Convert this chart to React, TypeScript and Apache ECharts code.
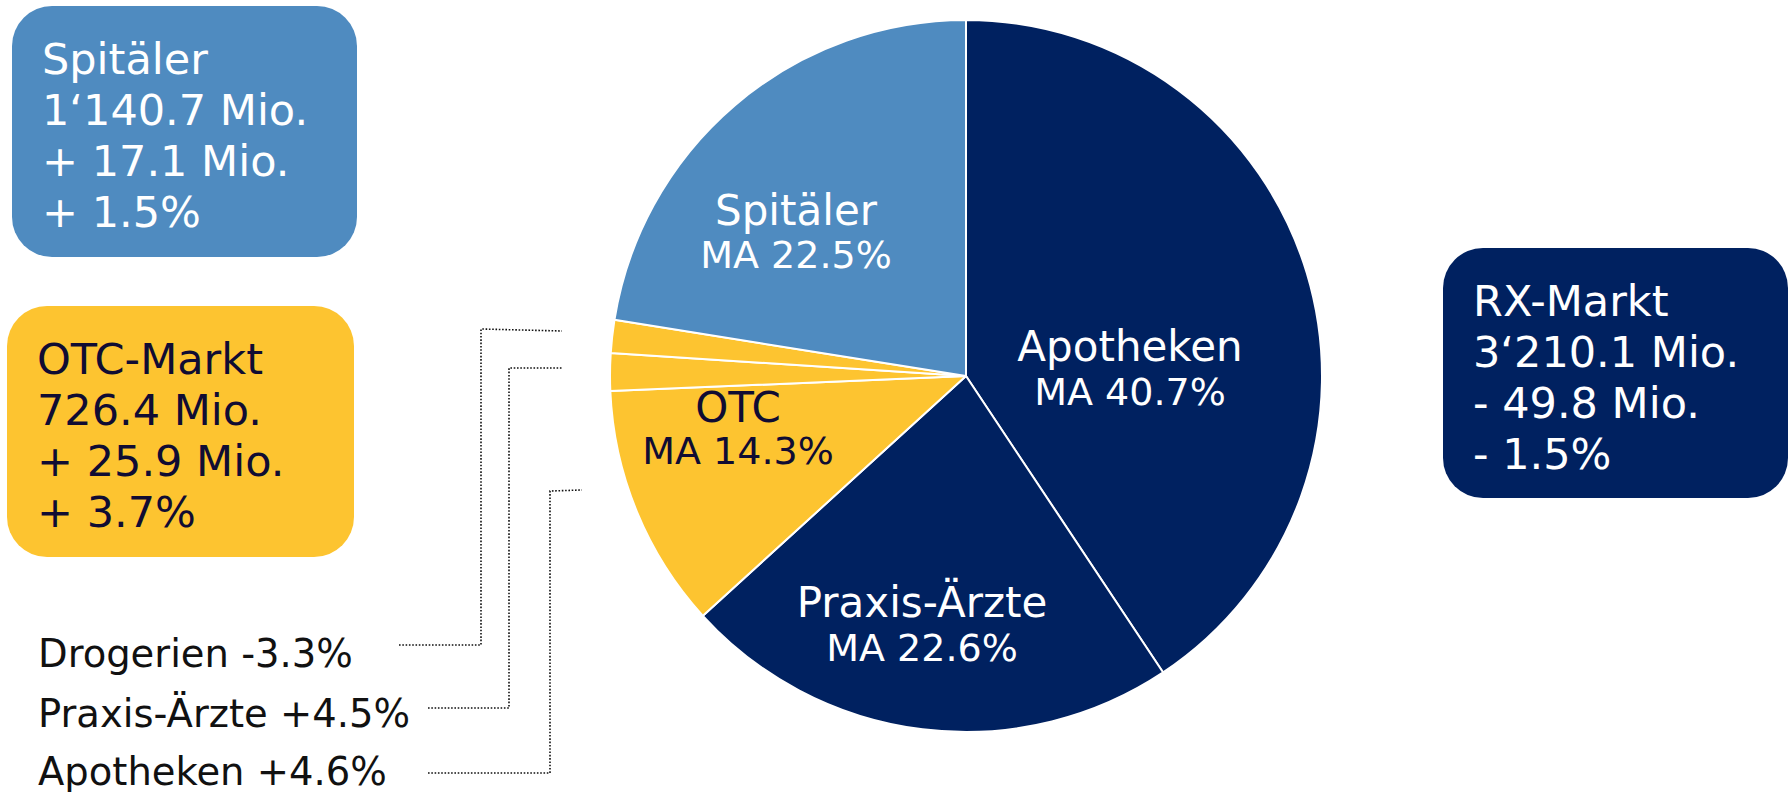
import React, { useEffect, useRef } from 'react';
import * as echarts from 'echarts';

// ---- data ----
const sliceNames = ['Apotheken', 'Praxis-Ärzte', 'OTC Apotheken', 'OTC Praxis-Ärzte', 'OTC Drogerien', 'Spitäler'];
const sliceShares = [40.7, 22.6, 11.1, 1.7, 1.5, 22.5];

const innerTitles = ['Apotheken', 'Praxis-Ärzte', 'OTC', 'Spitäler'];
const innerShares = ['MA 40.7%', 'MA 22.6%', 'MA 14.3%', 'MA 22.5%'];

const marketNames = ['Spitäler', 'OTC-Markt', 'RX-Markt'];
const marketVolumes = ['1‘140.7 Mio.', '726.4 Mio.', '3‘210.1 Mio.'];
const marketChangesAbs = ['+ 17.1 Mio.', '+ 25.9 Mio.', '- 49.8 Mio.'];
const marketChangesPct = ['+ 1.5%', '+ 3.7%', '- 1.5%'];

const otcChannels = ['Drogerien', 'Praxis-Ärzte', 'Apotheken'];
const otcGrowth = ['-3.3%', '+4.5%', '+4.6%'];

// ---- styles ----
const NAVY = '#002160';
const BLUE = '#4F8BC0';
const YELLOW = '#FDC430';
const DARK = '#100C33';
const FONT = '"DejaVu Sans", Verdana, sans-serif';
const sliceColors = [NAVY, NAVY, YELLOW, YELLOW, YELLOW, BLUE];

const boxes = [
  { x: 12, y: 6, w: 345, h: 251, fill: BLUE, text: '#ffffff' },
  { x: 7, y: 306, w: 347, h: 251, fill: YELLOW, text: DARK },
  { x: 1443, y: 248, w: 345, h: 250, fill: NAVY, text: '#ffffff' },
];

const innerPos = [
  { x: 1130, y1: 346, y2: 392, color: '#ffffff' },
  { x: 922, y1: 602, y2: 648, color: '#ffffff' },
  { x: 738, y1: 407, y2: 451, color: DARK },
  { x: 796, y1: 210, y2: 255, color: '#ffffff' },
];

const leaderPos = [
  { ty: 653, points: [[399, 645], [481, 645], [481, 329], [562, 331]] },
  { ty: 713, points: [[428, 708], [509, 708], [509, 368], [562, 368]] },
  { ty: 771, points: [[428, 773], [550, 773], [550, 491], [582, 490]] },
];

export default function App() {
  const ref = useRef<HTMLDivElement>(null);

  useEffect(() => {
    if (!ref.current) return;
    const chart = echarts.init(ref.current, null, { renderer: 'svg' });

    const graphics: any[] = [];

    // market boxes
    boxes.forEach((b, i) => {
      graphics.push({
        type: 'rect',
        z: 10,
        shape: { x: b.x, y: b.y, width: b.w, height: b.h, r: 40 },
        style: { fill: b.fill },
      });
      const lines = [marketNames[i], marketVolumes[i], marketChangesAbs[i], marketChangesPct[i]];
      lines.forEach((t, j) => {
        graphics.push({
          type: 'text',
          z: 11,
          x: b.x + 30,
          y: b.y + 53 + j * 51,
          style: {
            text: t,
            fill: b.text,
            fontSize: 43,
            fontFamily: FONT,
            align: 'left',
            verticalAlign: 'middle',
          },
        });
      });
    });

    // inner labels
    innerPos.forEach((p, i) => {
      graphics.push({
        type: 'text',
        z: 20,
        x: p.x,
        y: p.y1,
        style: { text: innerTitles[i], fill: p.color, fontSize: 42, fontFamily: FONT, align: 'center', verticalAlign: 'middle' },
      });
      graphics.push({
        type: 'text',
        z: 20,
        x: p.x,
        y: p.y2,
        style: { text: innerShares[i], fill: p.color, fontSize: 38, fontFamily: FONT, align: 'center', verticalAlign: 'middle' },
      });
    });

    // OTC channel labels with dotted leader lines
    leaderPos.forEach((l, i) => {
      graphics.push({
        type: 'text',
        z: 20,
        x: 38,
        y: l.ty,
        style: {
          text: `${otcChannels[i]} ${otcGrowth[i]}`,
          fill: '#111111',
          fontSize: 38.5,
          fontFamily: FONT,
          align: 'left',
          verticalAlign: 'middle',
        },
      });
      graphics.push({
        type: 'polyline',
        z: 20,
        shape: { points: l.points },
        style: { stroke: '#111111', lineWidth: 1.6, lineDash: [1.6, 1.7], fill: null },
      });
    });

    chart.setOption({
      animation: false,
      backgroundColor: '#ffffff',
      series: [
        {
          type: 'pie',
          center: [966, 376],
          radius: 356,
          startAngle: 90,
          clockwise: true,
          label: { show: false },
          labelLine: { show: false },
          emphasis: { disabled: true },
          itemStyle: { borderColor: '#ffffff', borderWidth: 2 },
          data: sliceNames.map((n, i) => ({
            name: n,
            value: sliceShares[i],
            itemStyle: { color: sliceColors[i] },
          })),
        },
      ],
      graphic: graphics,
    });

    return () => chart.dispose();
  }, []);

  return (
    <div
      ref={ref}
      style={{ position: 'absolute', left: 0, top: 0, width: 1790, height: 792 }}
    />
  );
}
